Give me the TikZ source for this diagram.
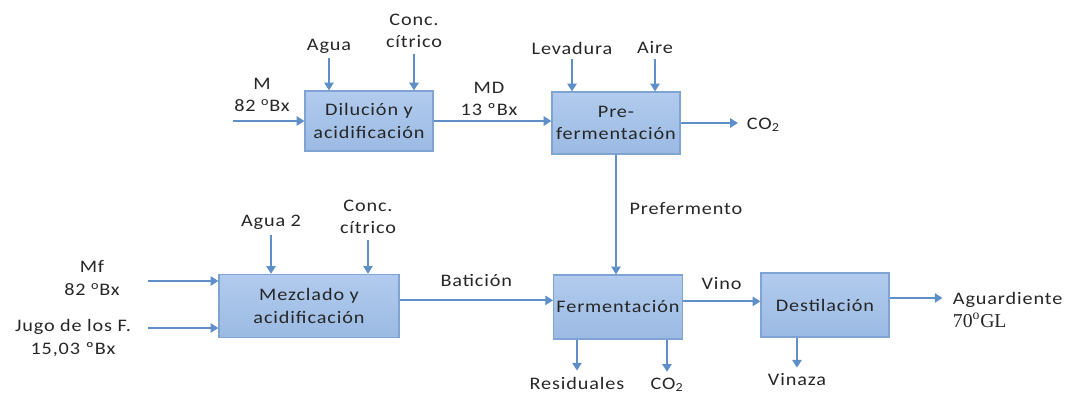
\documentclass[tikz,border=0pt]{standalone}
\usepackage{fontspec}
\setmainfont{Carlito}[FakeStretch=1.15,LetterSpace=5]
\newfontfamily\gradfont{Liberation Serif}
\usetikzlibrary{arrows.meta,positioning}
\definecolor{boxTop}{HTML}{B2CBEE}
\definecolor{boxBot}{HTML}{9BBAE3}
\definecolor{boxLine}{HTML}{7FA3D3}
\definecolor{flowBlue}{HTML}{5E8FC9}
\definecolor{txtGray}{HTML}{262626}

\begin{document}
\begin{tikzpicture}[x=0.025cm, y=-0.025cm, thick,
    proc/.style={draw=boxLine, top color=boxTop, bottom color=boxBot, align=center,
      minimum width=3.2cm, minimum height=1.5cm, inner sep=2pt,
      font=\fontsize{12.5}{16}\selectfont, text=txtGray},
    flow/.style={draw=flowBlue, line width=1.4pt, -{Triangle[length=5.5pt,width=6.5pt]}},
    lbl/.style={align=center, inner sep=1pt, font=\fontsize{12.5}{16}\selectfont, text=txtGray}]
    \useasboundingbox (0,0) rectangle (1071,399);

    % process blocks
    \node[proc] (Dil) at (369,121) {Dilución y\\acidificación};
    \node[proc, minimum height=1.55cm] (Pre) at (616,123) {Pre-\\fermentación};
    \node[proc, minimum width=4.5cm, minimum height=1.58cm] (Mez) at (309,306) {Mezclado y\\acidificación};
    \node[proc, minimum height=1.6cm] (Ferm) at (618,307) {Fermentación};
    \node[proc, minimum height=1.6cm] (Dest) at (825,305) {Destilación};

    % upper line
    \coordinate (MIn) at (233,121);
    \node[lbl] (M) at (262,95) {M\\82 \textsuperscript{o}Bx};
    \node[lbl] (Agua) at (329,46) {Agua};
    \node[lbl] (Conc) at (414,31) {Conc.\\cítrico};
    \draw[flow] (MIn) -- (MIn -| Dil.west);
    \draw[flow, shorten <=2pt] (Agua.south) -- (Agua.south |- Dil.north);
    \draw[flow, shorten <=3pt] (Conc.south) -- (Conc.south |- Dil.north);

    \node[lbl] (MD) at (489,99) {MD\\13 ºBx};
    \draw[flow] (Dil.east) -- (Dil.east -| Pre.west);

    \node[lbl] (Lev) at (572,48) {Levadura};
    \node[lbl] (Aire) at (655,48) {Aire};
    \draw[flow, shorten <=2pt] (Lev.south) -- (Lev.south |- Pre.north);
    \draw[flow, shorten <=2pt] (Aire.south) -- (Aire.south |- Pre.north);

    \node[lbl, anchor=west] (CoA) at (745,125) {CO\textsubscript{2}};
    \draw[flow, shorten >=5pt] (Pre.east) -- (Pre.east -| CoA.west);

    \draw[flow] (Pre.south) -- node[lbl, right=8pt, pos=0.45] {Prefermento} (Pre.south |- Ferm.north);

    % lower line
    \node[lbl] (Agua2) at (271,222) {Agua 2};
    \node[lbl] (Conc2) at (368,217) {Conc.\\cítrico};
    \draw[flow, shorten <=3pt] (Agua2.south) -- (Agua2.south |- Mez.north);
    \draw[flow, shorten <=3pt] (Conc2.south) -- (Conc2.south |- Mez.north);

    \coordinate (MfIn) at (148,281);
    \coordinate (JugoIn) at (148,328);
    \node[lbl] (Mf) at (92,278) {Mf\\82 \textsuperscript{o}Bx};
    \node[lbl] (Jugo) at (73,338) {Jugo de los F.\\15,03 ºBx};
    \draw[flow] (MfIn) -- (MfIn -| Mez.west);
    \draw[flow] (JugoIn) -- (JugoIn -| Mez.west);

    \draw[flow] ([yshift=4pt]Mez.east) -- node[lbl, above=8pt] {Batición} ([yshift=4pt]Mez.east -| Ferm.west);
    \draw[flow] ([yshift=4pt]Ferm.east) -- node[lbl, above=7pt] {Vino} ([yshift=4pt]Ferm.east -| Dest.west);

    \node[lbl, align=left, anchor=west] (Aguard) at (951,310) {Aguardiente\\{\gradfont\fontsize{14}{16}\selectfont 70\textsuperscript{o}GL}};
    \draw[flow, shorten >=6pt] ([yshift=5pt]Dest.east) -- ([yshift=5pt]Dest.east -| Aguard.west);

    % outputs below
    \node[lbl] (Res) at (577,383) {Residuales};
    \node[lbl] (CoB) at (667,385) {CO\textsubscript{2}};
    \node[lbl] (Vin) at (797,380) {Vinaza};
    \draw[flow, shorten >=3pt] (Res.north |- Ferm.south) -- (Res.north);
    \draw[flow, shorten >=3pt] (CoB.north |- Ferm.south) -- (CoB.north);
    \draw[flow, shorten >=3pt] (Vin.north |- Dest.south) -- (Vin.north);
\end{tikzpicture}
\end{document}
